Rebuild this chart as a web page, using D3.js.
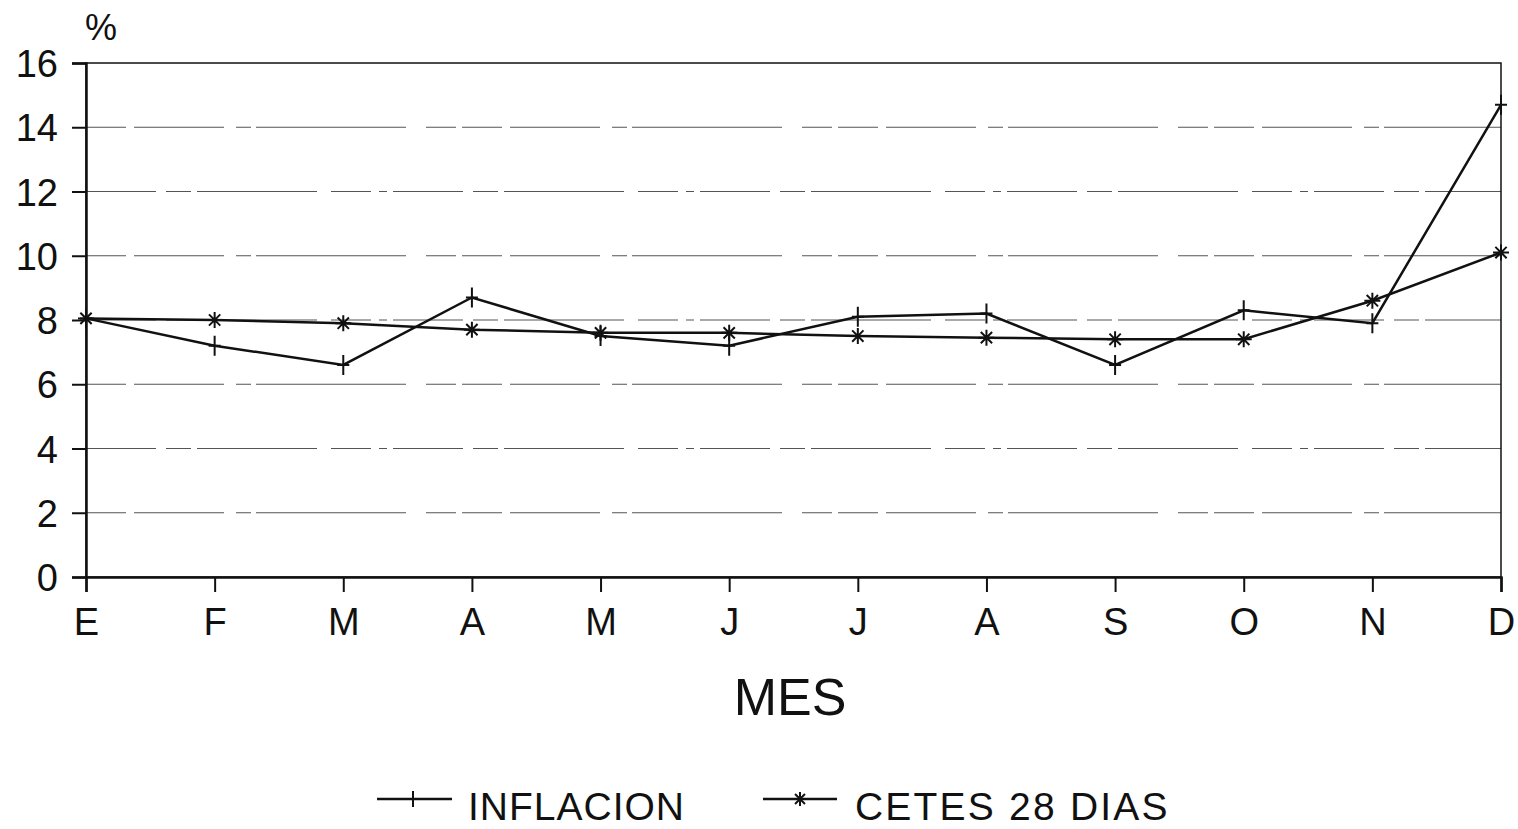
<!DOCTYPE html>
<html>
<head>
<meta charset="utf-8">
<script src="https://cdn.jsdelivr.net/npm/d3@7"></script>
<style>
  body { margin: 0; background: #fff; }
  text { font-family: "Liberation Sans", Arial, sans-serif; fill: #111; }
</style>
</head>
<body>
<div class="chart"></div>
<script>
// months (Spanish initials)
var months = ["E", "F", "M", "A", "M", "J", "J", "A", "S", "O", "N", "D"];
var inflacion = [8.05, 7.2, 6.6, 8.7, 7.5, 7.2, 8.1, 8.2, 6.6, 8.3, 7.9, 14.7];
var cetes = [8.05, 8.0, 7.9, 7.7, 7.6, 7.6, 7.5, 7.45, 7.4, 7.4, 8.6, 10.1];
var yTicks = [0, 2, 4, 6, 8, 10, 12, 14, 16];

var svgWidth = 1518, svgHeight = 829;
var margin = { top: 63, left: 86, right: 17, bottom: 252 };
var width = svgWidth - margin.left - margin.right;
var height = svgHeight - margin.top - margin.bottom;

var svg = d3.select(".chart").append("svg")
  .attr("width", svgWidth)
  .attr("height", svgHeight);

var chartGroup = svg.append("g")
  .attr("transform", `translate(${margin.left}, ${margin.top})`);

var xScale = d3.scalePoint()
  .domain(d3.range(months.length))
  .range([0, width]);

var yScale = d3.scaleLinear()
  .domain([0, 16])
  .range([height, 0]);

// broken-looking gridlines
chartGroup.append("g").selectAll("line")
  .data(yTicks.filter(d => d > 0 && d < 16))
  .enter()
  .append("line")
  .attr("x1", 0)
  .attr("x2", width)
  .attr("y1", d => yScale(d))
  .attr("y2", d => yScale(d))
  .attr("stroke", "#555")
  .attr("stroke-width", 1.2)
  .attr("stroke-dasharray", (d, i) => i % 2 ? "70 10 25 6 120 14 40 8 8 6" : "40 8 90 12 15 5 150 20 30 6");

// frame
chartGroup.append("rect")
  .attr("width", width)
  .attr("height", height)
  .attr("fill", "none")
  .attr("stroke", "#111")
  .attr("stroke-width", 1.5);

// axes
var yAxis = d3.axisLeft(yScale).tickValues(yTicks).tickSize(14).tickPadding(14);
var xAxis = d3.axisBottom(xScale).tickFormat(i => months[i]).tickSize(15).tickPadding(16);

var yG = chartGroup.append("g").call(yAxis);
var xG = chartGroup.append("g").attr("transform", `translate(0, ${height})`).call(xAxis);

[yG, xG].forEach(function(g) {
  g.select(".domain").attr("stroke", "#111").attr("stroke-width", 2.5);
  g.selectAll(".tick line").attr("stroke", "#111").attr("stroke-width", 2);
  g.selectAll(".tick text")
    .attr("fill", "#111")
    .style("font-family", "'Liberation Sans', Arial, sans-serif")
    .style("font-size", "38px");
});
yG.selectAll(".tick text").attr("dy", "0.36em");
xG.selectAll(".tick text").attr("dy", "0.72em");

// series lines
var line = d3.line()
  .x((d, i) => xScale(i))
  .y(d => yScale(d));

function plusPath(s) {
  return `M${-s * 0.6},0H${s * 0.6}M0,${-s}V${s}`;
}
function starPath(s) {
  var p = "";
  for (var k = 0; k < 4; k++) {
    var a = Math.PI / 4 * k;
    p += `M${-s * Math.cos(a)},${-s * Math.sin(a)}L${s * Math.cos(a)},${s * Math.sin(a)}`;
  }
  return p;
}

chartGroup.append("path")
  .datum(inflacion)
  .attr("d", line)
  .attr("fill", "none")
  .attr("stroke", "#111")
  .attr("stroke-width", 2.5);

chartGroup.append("path")
  .datum(cetes)
  .attr("d", line)
  .attr("fill", "none")
  .attr("stroke", "#111")
  .attr("stroke-width", 2.5);

chartGroup.append("g").selectAll("path")
  .data(inflacion)
  .enter()
  .append("path")
  .attr("transform", (d, i) => `translate(${xScale(i)}, ${yScale(d)})`)
  .attr("d", plusPath(10))
  .attr("stroke", "#111")
  .attr("stroke-width", 2);

chartGroup.append("g").selectAll("path")
  .data(cetes)
  .enter()
  .append("path")
  .attr("transform", (d, i) => `translate(${xScale(i)}, ${yScale(d)})`)
  .attr("d", starPath(8))
  .attr("stroke", "#111")
  .attr("stroke-width", 2);

// labels
svg.append("text")
  .attr("x", 101)
  .attr("y", 40)
  .attr("text-anchor", "middle")
  .style("font-size", "36px")
  .text("%");

svg.append("text")
  .attr("x", 790)
  .attr("y", 715)
  .attr("text-anchor", "middle")
  .style("font-size", "52px")
  .text("MES");

// legend
var legend = svg.append("g");
legend.append("line").attr("x1", 377).attr("x2", 452).attr("y1", 799).attr("y2", 799)
  .attr("stroke", "#111").attr("stroke-width", 2.5);
legend.append("path").attr("transform", "translate(413, 799)").attr("d", plusPath(8))
  .attr("stroke", "#111").attr("stroke-width", 2);
legend.append("text").attr("x", 468).attr("y", 820)
  .style("font-size", "39px").style("letter-spacing", "1px").text("INFLACION");

legend.append("line").attr("x1", 763).attr("x2", 837).attr("y1", 799).attr("y2", 799)
  .attr("stroke", "#111").attr("stroke-width", 2.5);
legend.append("path").attr("transform", "translate(800, 799)").attr("d", starPath(7))
  .attr("stroke", "#111").attr("stroke-width", 2);
legend.append("text").attr("x", 855).attr("y", 820)
  .style("font-size", "39px").style("letter-spacing", "2.2px").text("CETES 28 DIAS");
</script>
</body>
</html>
